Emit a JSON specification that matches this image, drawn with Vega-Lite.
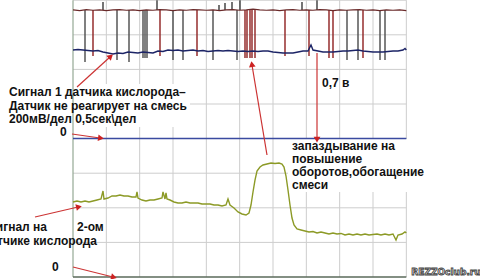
{
  "$schema": "https://vega.github.io/schema/vega-lite/v6.json",
  "width": 480,
  "height": 279,
  "autosize": {"type": "none"},
  "padding": 0,
  "background": "white",
  "config": {"view": {"stroke": null}},
  "datasets": {
    "grid": [
      {"t": 0, "v": 0, "t2": 0, "v2": 8, "kind": "edge"},
      {"t": 0.5, "v": 0, "t2": 0.5, "v2": 8, "kind": "grid"},
      {"t": 1.0, "v": 0, "t2": 1.0, "v2": 8, "kind": "grid"},
      {"t": 1.5, "v": 0, "t2": 1.5, "v2": 8, "kind": "grid"},
      {"t": 2.0, "v": 0, "t2": 2.0, "v2": 8, "kind": "grid"},
      {"t": 2.5, "v": 0, "t2": 2.5, "v2": 8, "kind": "grid"},
      {"t": 3.0, "v": 0, "t2": 3.0, "v2": 8, "kind": "grid"},
      {"t": 3.5, "v": 0, "t2": 3.5, "v2": 8, "kind": "grid"},
      {"t": 4.0, "v": 0, "t2": 4.0, "v2": 8, "kind": "grid"},
      {"t": 4.5, "v": 0, "t2": 4.5, "v2": 8, "kind": "grid"},
      {"t": 5.0, "v": 0, "t2": 5.0, "v2": 8, "kind": "grid"},
      {"t": 0, "v": 1, "t2": 5, "v2": 1, "kind": "grid"},
      {"t": 0, "v": 2, "t2": 5, "v2": 2, "kind": "grid"},
      {"t": 0, "v": 3, "t2": 5, "v2": 3, "kind": "grid"},
      {"t": 0, "v": 5, "t2": 5, "v2": 5, "kind": "grid"},
      {"t": 0, "v": 6, "t2": 5, "v2": 6, "kind": "grid"},
      {"t": 0, "v": 7, "t2": 5, "v2": 7, "kind": "grid"},
      {"t": 0, "v": 8, "t2": 5, "v2": 8, "kind": "grid"},
      {"t": 0, "v": 0, "t2": 5, "v2": 0, "kind": "bottom"},
      {"t": 0, "v": 4, "t2": 5, "v2": 4, "kind": "zero1"}
    ],
    "boxes": [
      {"t": -1.1, "v": 4.335, "t2": 1.755, "v2": 5.578},
      {"t": 3.225, "v": 2.457, "t2": 5.3, "v2": 3.988}
    ],
    "ignition": [
      {"t": 0, "v": 7.72}, {"t": 0.1, "v": 7.70}, {"t": 0.2, "v": 7.73}, {"t": 0.3, "v": 7.71},
      {"t": 0.4, "v": 7.72}, {"t": 0.5, "v": 7.70}, {"t": 0.6, "v": 7.72}, {"t": 0.7, "v": 7.73},
      {"t": 0.8, "v": 7.71}, {"t": 0.9, "v": 7.72}, {"t": 1.0, "v": 7.70}, {"t": 1.1, "v": 7.72},
      {"t": 1.2, "v": 7.71}, {"t": 1.3, "v": 7.73}, {"t": 1.4, "v": 7.72}, {"t": 1.5, "v": 7.70},
      {"t": 1.6, "v": 7.72}, {"t": 1.7, "v": 7.71}, {"t": 1.8, "v": 7.73}, {"t": 1.9, "v": 7.72},
      {"t": 2.0, "v": 7.71}, {"t": 2.1, "v": 7.72}, {"t": 2.2, "v": 7.70}, {"t": 2.3, "v": 7.72},
      {"t": 2.4, "v": 7.73}, {"t": 2.5, "v": 7.71}, {"t": 2.6, "v": 7.72}, {"t": 2.7, "v": 7.74},
      {"t": 2.8, "v": 7.72}, {"t": 2.9, "v": 7.71}, {"t": 3.0, "v": 7.72}, {"t": 3.1, "v": 7.70},
      {"t": 3.2, "v": 7.72}, {"t": 3.3, "v": 7.73}, {"t": 3.4, "v": 7.71}, {"t": 3.5, "v": 7.72},
      {"t": 3.6, "v": 7.71}, {"t": 3.7, "v": 7.73}, {"t": 3.8, "v": 7.72}, {"t": 3.9, "v": 7.70},
      {"t": 4.0, "v": 7.72}, {"t": 4.1, "v": 7.71}, {"t": 4.2, "v": 7.72}, {"t": 4.3, "v": 7.73},
      {"t": 4.4, "v": 7.71}, {"t": 4.5, "v": 7.72}, {"t": 4.6, "v": 7.70}, {"t": 4.7, "v": 7.72},
      {"t": 4.8, "v": 7.71}, {"t": 4.9, "v": 7.72}, {"t": 5.0, "v": 7.70}
    ],
    "spikes": [
      {"t": 0.18, "v": 7.716, "v2": 6.214, "kind": "gray"},
      {"t": 0.3, "v": 7.716, "v2": 6.387, "kind": "red"},
      {"t": 0.66, "v": 7.716, "v2": 6.271, "kind": "gray"},
      {"t": 0.84, "v": 7.716, "v2": 6.214, "kind": "gray"},
      {"t": 1.05, "v": 7.716, "v2": 6.329, "kind": "gray"},
      {"t": 1.08, "v": 7.716, "v2": 6.329, "kind": "gray"},
      {"t": 1.11, "v": 7.716, "v2": 6.329, "kind": "gray"},
      {"t": 1.305, "v": 7.716, "v2": 6.387, "kind": "red"},
      {"t": 1.5, "v": 7.716, "v2": 6.271, "kind": "gray"},
      {"t": 1.65, "v": 7.716, "v2": 6.271, "kind": "gray"},
      {"t": 1.86, "v": 7.716, "v2": 6.387, "kind": "red"},
      {"t": 2.1, "v": 7.716, "v2": 6.271, "kind": "gray"},
      {"t": 2.46, "v": 7.716, "v2": 6.271, "kind": "gray"},
      {"t": 2.58, "v": 7.716, "v2": 6.329, "kind": "red"},
      {"t": 2.61, "v": 7.716, "v2": 6.329, "kind": "red"},
      {"t": 2.655, "v": 7.716, "v2": 6.329, "kind": "red"},
      {"t": 2.685, "v": 7.716, "v2": 6.329, "kind": "red"},
      {"t": 2.73, "v": 7.716, "v2": 6.329, "kind": "red"},
      {"t": 3.18, "v": 7.716, "v2": 6.387, "kind": "red"},
      {"t": 3.54, "v": 7.716, "v2": 6.387, "kind": "red"},
      {"t": 3.84, "v": 7.716, "v2": 6.329, "kind": "red"},
      {"t": 3.9, "v": 7.716, "v2": 6.329, "kind": "red"},
      {"t": 4.11, "v": 7.716, "v2": 6.271, "kind": "gray"},
      {"t": 4.275, "v": 7.716, "v2": 6.271, "kind": "gray"},
      {"t": 4.35, "v": 7.716, "v2": 6.329, "kind": "red"},
      {"t": 4.605, "v": 7.716, "v2": 6.271, "kind": "gray"},
      {"t": 4.68, "v": 7.716, "v2": 6.271, "kind": "gray"},
      {"t": 0.45, "v": 7.716, "v2": 7.948, "kind": "up"},
      {"t": 1.26, "v": 7.716, "v2": 8.0, "kind": "up"},
      {"t": 2.19, "v": 7.716, "v2": 7.86, "kind": "up"},
      {"t": 2.28, "v": 7.716, "v2": 7.919, "kind": "up"},
      {"t": 2.385, "v": 7.716, "v2": 7.948, "kind": "up"},
      {"t": 2.505, "v": 7.716, "v2": 8.0, "kind": "up"},
      {"t": 3.435, "v": 7.716, "v2": 7.948, "kind": "up"},
      {"t": 3.66, "v": 7.716, "v2": 8.0, "kind": "up"}
    ],
    "sensor1": [
      {"t": 0, "v": 6.560}, {"t": 0.075, "v": 6.575}, {"t": 0.15, "v": 6.560}, {"t": 0.225, "v": 6.546},
      {"t": 0.3, "v": 6.531}, {"t": 0.375, "v": 6.545}, {"t": 0.45, "v": 6.503}, {"t": 0.525, "v": 6.474},
      {"t": 0.6, "v": 6.445}, {"t": 0.675, "v": 6.474}, {"t": 0.75, "v": 6.459}, {"t": 0.825, "v": 6.503},
      {"t": 0.9, "v": 6.490}, {"t": 0.975, "v": 6.474}, {"t": 1.05, "v": 6.503}, {"t": 1.125, "v": 6.490},
      {"t": 1.2, "v": 6.474}, {"t": 1.275, "v": 6.531}, {"t": 1.35, "v": 6.517}, {"t": 1.425, "v": 6.560},
      {"t": 1.5, "v": 6.546}, {"t": 1.575, "v": 6.560}, {"t": 1.65, "v": 6.531}, {"t": 1.725, "v": 6.546},
      {"t": 1.8, "v": 6.560}, {"t": 1.875, "v": 6.531}, {"t": 1.95, "v": 6.546}, {"t": 2.025, "v": 6.517},
      {"t": 2.1, "v": 6.531}, {"t": 2.175, "v": 6.546}, {"t": 2.25, "v": 6.531}, {"t": 2.325, "v": 6.546},
      {"t": 2.4, "v": 6.531}, {"t": 2.475, "v": 6.517}, {"t": 2.55, "v": 6.531}, {"t": 2.625, "v": 6.517},
      {"t": 2.7, "v": 6.531}, {"t": 2.775, "v": 6.517}, {"t": 2.85, "v": 6.531}, {"t": 2.925, "v": 6.531},
      {"t": 3.0, "v": 6.503}, {"t": 3.075, "v": 6.488}, {"t": 3.15, "v": 6.474}, {"t": 3.225, "v": 6.474},
      {"t": 3.3, "v": 6.474}, {"t": 3.375, "v": 6.503}, {"t": 3.45, "v": 6.531}, {"t": 3.525, "v": 6.531},
      {"t": 3.57, "v": 6.705}, {"t": 3.6, "v": 6.560}, {"t": 3.675, "v": 6.531}, {"t": 3.75, "v": 6.503},
      {"t": 3.825, "v": 6.503}, {"t": 3.9, "v": 6.503}, {"t": 3.975, "v": 6.517}, {"t": 4.05, "v": 6.531},
      {"t": 4.125, "v": 6.531}, {"t": 4.2, "v": 6.546}, {"t": 4.275, "v": 6.560}, {"t": 4.35, "v": 6.531},
      {"t": 4.425, "v": 6.517}, {"t": 4.5, "v": 6.503}, {"t": 4.575, "v": 6.503}, {"t": 4.65, "v": 6.503},
      {"t": 4.725, "v": 6.517}, {"t": 4.8, "v": 6.531}, {"t": 4.875, "v": 6.531}, {"t": 4.95, "v": 6.560},
      {"t": 4.98, "v": 6.604}, {"t": 5.0, "v": 6.560}
    ],
    "sensor2": [
      {"t": 0, "v": 2.168}, {"t": 0.06, "v": 2.196}, {"t": 0.12, "v": 2.168}, {"t": 0.18, "v": 2.196},
      {"t": 0.24, "v": 2.168}, {"t": 0.3, "v": 2.196}, {"t": 0.36, "v": 2.225}, {"t": 0.42, "v": 2.254},
      {"t": 0.45, "v": 2.485}, {"t": 0.465, "v": 2.254}, {"t": 0.525, "v": 2.283}, {"t": 0.585, "v": 2.341},
      {"t": 0.645, "v": 2.341}, {"t": 0.705, "v": 2.370}, {"t": 0.765, "v": 2.341}, {"t": 0.825, "v": 2.341},
      {"t": 0.885, "v": 2.312}, {"t": 0.945, "v": 2.312}, {"t": 0.96, "v": 2.457}, {"t": 0.975, "v": 2.283},
      {"t": 1.035, "v": 2.225}, {"t": 1.095, "v": 2.196}, {"t": 1.155, "v": 2.225}, {"t": 1.215, "v": 2.225},
      {"t": 1.275, "v": 2.254}, {"t": 1.335, "v": 2.283}, {"t": 1.35, "v": 2.457}, {"t": 1.38, "v": 2.254},
      {"t": 1.395, "v": 2.428}, {"t": 1.41, "v": 2.254}, {"t": 1.455, "v": 2.225}, {"t": 1.515, "v": 2.168},
      {"t": 1.575, "v": 2.139}, {"t": 1.635, "v": 2.139}, {"t": 1.695, "v": 2.168}, {"t": 1.755, "v": 2.139},
      {"t": 1.815, "v": 2.139}, {"t": 1.875, "v": 2.139}, {"t": 1.935, "v": 2.110}, {"t": 1.995, "v": 2.110},
      {"t": 2.055, "v": 2.110}, {"t": 2.115, "v": 2.081}, {"t": 2.175, "v": 2.081}, {"t": 2.235, "v": 2.052},
      {"t": 2.295, "v": 2.081}, {"t": 2.325, "v": 2.254}, {"t": 2.355, "v": 2.081}, {"t": 2.415, "v": 1.994},
      {"t": 2.475, "v": 1.879}, {"t": 2.535, "v": 1.821}, {"t": 2.595, "v": 1.792}, {"t": 2.64, "v": 1.850},
      {"t": 2.67, "v": 2.081}, {"t": 2.7, "v": 2.457}, {"t": 2.73, "v": 2.803}, {"t": 2.76, "v": 3.063},
      {"t": 2.805, "v": 3.179}, {"t": 2.85, "v": 3.237}, {"t": 2.91, "v": 3.266}, {"t": 2.97, "v": 3.295},
      {"t": 3.03, "v": 3.280}, {"t": 3.09, "v": 3.295}, {"t": 3.135, "v": 3.266}, {"t": 3.165, "v": 3.179},
      {"t": 3.195, "v": 2.919}, {"t": 3.225, "v": 2.514}, {"t": 3.255, "v": 2.081}, {"t": 3.285, "v": 1.705},
      {"t": 3.315, "v": 1.503}, {"t": 3.36, "v": 1.387}, {"t": 3.42, "v": 1.358}, {"t": 3.48, "v": 1.329},
      {"t": 3.54, "v": 1.301}, {"t": 3.6, "v": 1.315}, {"t": 3.66, "v": 1.272}, {"t": 3.72, "v": 1.301},
      {"t": 3.78, "v": 1.272}, {"t": 3.84, "v": 1.243}, {"t": 3.9, "v": 1.272}, {"t": 3.96, "v": 1.243},
      {"t": 4.02, "v": 1.258}, {"t": 4.08, "v": 1.214}, {"t": 4.14, "v": 1.243}, {"t": 4.2, "v": 1.214},
      {"t": 4.26, "v": 1.243}, {"t": 4.32, "v": 1.214}, {"t": 4.38, "v": 1.243}, {"t": 4.44, "v": 1.214},
      {"t": 4.5, "v": 1.228}, {"t": 4.56, "v": 1.243}, {"t": 4.62, "v": 1.214}, {"t": 4.68, "v": 1.243},
      {"t": 4.74, "v": 1.214}, {"t": 4.8, "v": 1.243}, {"t": 4.845, "v": 1.069}, {"t": 4.875, "v": 1.214},
      {"t": 4.935, "v": 1.243}, {"t": 4.98, "v": 1.301}, {"t": 5.0, "v": 1.272}
    ],
    "arrows": [
      {"t": 0.06, "v": 5.491, "t2": 0.555, "v2": 6.358, "angle": 48},
      {"t": -0.015, "v": 4.133, "t2": 0.405, "v2": 4.017, "angle": 98},
      {"t": 2.91, "v": 3.526, "t2": 2.685, "v2": 6.127, "angle": 351},
      {"t": 3.66, "v": 6.474, "t2": 3.66, "v2": 4.0, "angle": 180},
      {"t": -0.57, "v": 1.734, "t2": 0.075, "v2": 2.023, "angle": 77},
      {"t": 0, "v": 0.289, "t2": 0.6, "v2": 0.0, "angle": 104}
    ],
    "labelsLeft": [
      {"t": -0.96, "v": 5.347, "label": "Сигнал 1 датчика кислорода–"},
      {"t": -0.96, "v": 4.942, "label": "Датчик не реагирует на смесь"},
      {"t": -0.96, "v": 4.566, "label": "200мВ/дел  0,5сек\\дел"},
      {"t": -0.195, "v": 4.191, "label": "0"},
      {"t": 3.735, "v": 5.607, "label": "0,7 в"},
      {"t": 3.285, "v": 3.786, "label": "запаздывание на"},
      {"t": 3.285, "v": 3.410, "label": "повышение"},
      {"t": 3.285, "v": 3.035, "label": "оборотов,обогащение"},
      {"t": 3.285, "v": 2.659, "label": "смеси"},
      {"t": 0.06, "v": 1.445, "label": "2-ом"},
      {"t": -0.315, "v": 0.289, "label": "0"}
    ],
    "labelsRight": [
      {"t": -0.39, "v": 1.445, "label": "Сигнал на"},
      {"t": 0.36, "v": 1.040, "label": "датчике кислорода"}
    ],
    "watermark": [
      {"t": 5.595, "v": 0.145, "label": "REZZOclub.ru"}
    ]
  },
  "encoding": {
    "x": {"field": "t", "type": "quantitative", "scale": {"domain": [-1.095, 6.105], "nice": false, "zero": false}, "axis": null},
    "y": {"field": "v", "type": "quantitative", "scale": {"domain": [-0.058, 8.006], "nice": false, "zero": false}, "axis": null}
  },
  "layer": [
    {
      "data": {"name": "grid"},
      "transform": [{"filter": "datum.kind == 'grid'"}],
      "mark": {"type": "rule", "color": "#cdcdcd", "strokeWidth": 1},
      "encoding": {"x2": {"field": "t2"}, "y2": {"field": "v2"}}
    },
    {
      "data": {"name": "boxes"},
      "mark": {"type": "rect", "color": "white"},
      "encoding": {"x2": {"field": "t2"}, "y2": {"field": "v2"}}
    },
    {
      "data": {"name": "grid"},
      "transform": [{"filter": "datum.kind == 'edge'"}],
      "mark": {"type": "rule", "color": "#94a894", "strokeWidth": 1.2},
      "encoding": {"x2": {"field": "t2"}, "y2": {"field": "v2"}}
    },
    {
      "data": {"name": "grid"},
      "transform": [{"filter": "datum.kind == 'bottom'"}],
      "mark": {"type": "rule", "color": "#5a6a5a", "strokeWidth": 1.5},
      "encoding": {"x2": {"field": "t2"}, "y2": {"field": "v2"}}
    },
    {
      "data": {"name": "grid"},
      "transform": [{"filter": "datum.kind == 'zero1'"}],
      "mark": {"type": "rule", "color": "#3a4aa0", "strokeWidth": 1.5},
      "encoding": {"x2": {"field": "t2"}, "y2": {"field": "v2"}}
    },
    {
      "data": {"name": "spikes"},
      "mark": {"type": "rule", "strokeWidth": 1.4},
      "encoding": {
        "y2": {"field": "v2"},
        "color": {"field": "kind", "type": "nominal", "scale": {"domain": ["red", "gray", "up"], "range": ["#8e1f1f", "#4a4a4a", "#3a3a3a"]}, "legend": null}
      }
    },
    {
      "data": {"name": "ignition"},
      "mark": {"type": "line", "color": "#6a2a2a", "strokeWidth": 1.2},
      "encoding": {}
    },
    {
      "data": {"name": "sensor1"},
      "mark": {"type": "line", "color": "#1c2466", "strokeWidth": 1.4},
      "encoding": {}
    },
    {
      "data": {"name": "sensor2"},
      "mark": {"type": "line", "color": "#8c9a26", "strokeWidth": 1.4},
      "encoding": {}
    },
    {
      "data": {"name": "arrows"},
      "mark": {"type": "rule", "color": "#cc3333", "strokeWidth": 1.2},
      "encoding": {"x2": {"field": "t2"}, "y2": {"field": "v2"}}
    },
    {
      "data": {"name": "arrows"},
      "mark": {"type": "point", "shape": "triangle", "filled": true, "color": "#cc2222", "size": 45, "opacity": 1},
      "encoding": {
        "x": {"field": "t2", "type": "quantitative"},
        "y": {"field": "v2", "type": "quantitative"},
        "angle": {"field": "angle", "type": "quantitative", "scale": null}
      }
    },
    {
      "data": {"name": "labelsLeft"},
      "mark": {"type": "text", "align": "left", "baseline": "middle", "font": "Liberation Sans", "fontSize": 12, "fontWeight": "bold", "color": "#111111", "clip": true},
      "encoding": {"text": {"field": "label"}}
    },
    {
      "data": {"name": "labelsRight"},
      "mark": {"type": "text", "align": "right", "baseline": "middle", "font": "Liberation Sans", "fontSize": 12, "fontWeight": "bold", "color": "#111111", "clip": true},
      "encoding": {"text": {"field": "label"}}
    },
    {
      "data": {"name": "watermark"},
      "mark": {"type": "text", "align": "center", "baseline": "middle", "font": "DejaVu Sans", "fontSize": 9, "fontWeight": "bold", "color": "white", "stroke": "#444444", "strokeWidth": 0.9, "clip": true},
      "encoding": {"text": {"field": "label"}}
    }
  ]
}
